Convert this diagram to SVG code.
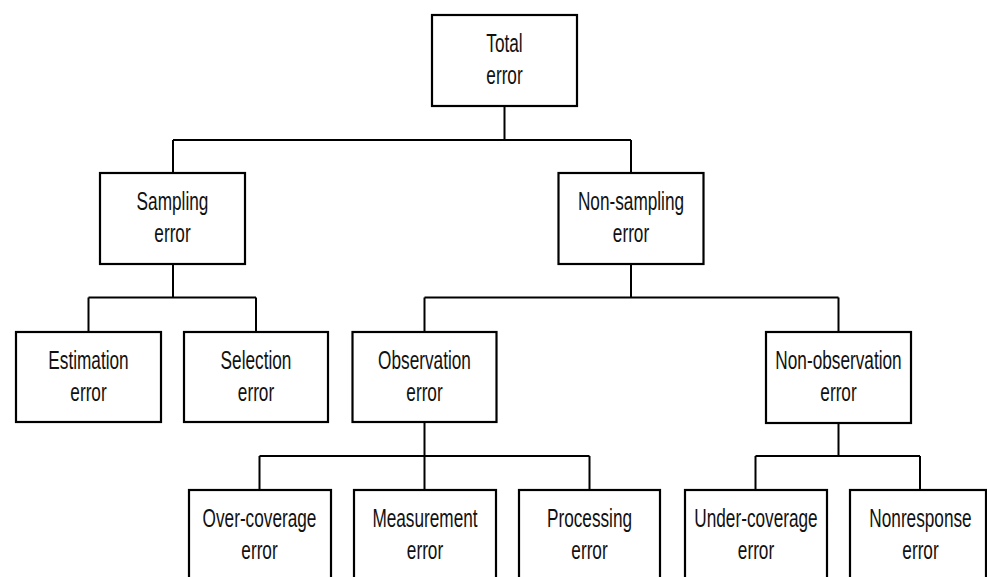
<svg xmlns="http://www.w3.org/2000/svg" width="987" height="577" viewBox="0 0 987 577">
<style>
rect.n{fill:#fff;stroke:#000;stroke-width:2.2}
.c path{fill:none;stroke:#000;stroke-width:2}
text{font-family:"Liberation Sans",Arial,sans-serif;font-size:25.5px;fill:#111;text-anchor:middle}
</style>
<rect width="987" height="577" fill="#fff"/>
<g class="c" id="connectors">
<path d="M504.5 106V140M173 140H631M173 140V173M631 140V173"/>
<path d="M173 264V297.5M88.5 297.5H256M88.5 297.5V332M256 297.5V332"/>
<path d="M631 264V297.5M424.5 297.5H838.5M424.5 297.5V332M838.5 297.5V332"/>
<path d="M424.5 422V456M259.5 456H589.5M259.5 456V490M424.5 456V490M589.5 456V490"/>
<path d="M838.5 423V456M755.5 456H920M755.5 456V490M920 456V490"/>
</g>
<g id="total"><rect class="n" x="432" y="15" width="145" height="91"/>
<text transform="translate(504.5 51.5) scale(0.675 1)">Total</text>
<text transform="translate(504.5 83.5) scale(0.675 1)">error</text></g>
<g id="sampling"><rect class="n" x="100" y="173" width="145" height="91"/>
<text transform="translate(172.5 209.5) scale(0.675 1)">Sampling</text>
<text transform="translate(172.5 241.5) scale(0.675 1)">error</text></g>
<g id="nonsampling"><rect class="n" x="558.5" y="173" width="145" height="91"/>
<text transform="translate(631 209.5) scale(0.675 1)">Non-sampling</text>
<text transform="translate(631 241.5) scale(0.675 1)">error</text></g>
<g id="estimation"><rect class="n" x="16" y="332" width="145" height="90"/>
<text transform="translate(88.5 368.5) scale(0.675 1)">Estimation</text>
<text transform="translate(88.5 400.5) scale(0.675 1)">error</text></g>
<g id="selection"><rect class="n" x="184" y="332" width="144" height="90"/>
<text transform="translate(256 368.5) scale(0.675 1)">Selection</text>
<text transform="translate(256 400.5) scale(0.675 1)">error</text></g>
<g id="observation"><rect class="n" x="352.5" y="332" width="144" height="90"/>
<text transform="translate(424.5 368.5) scale(0.675 1)">Observation</text>
<text transform="translate(424.5 400.5) scale(0.675 1)">error</text></g>
<g id="nonobservation"><rect class="n" x="766" y="332" width="145" height="91"/>
<text transform="translate(838.5 368.5) scale(0.675 1)">Non-observation</text>
<text transform="translate(838.5 400.5) scale(0.675 1)">error</text></g>
<g id="overcoverage"><rect class="n" x="189" y="490" width="142" height="95"/>
<text transform="translate(259.5 526.5) scale(0.675 1)">Over-coverage</text>
<text transform="translate(259.5 558.5) scale(0.675 1)">error</text></g>
<g id="measurement"><rect class="n" x="354" y="490" width="142" height="95"/>
<text transform="translate(425 526.5) scale(0.675 1)">Measurement</text>
<text transform="translate(425 558.5) scale(0.675 1)">error</text></g>
<g id="processing"><rect class="n" x="519" y="490" width="141" height="95"/>
<text transform="translate(589.5 526.5) scale(0.675 1)">Processing</text>
<text transform="translate(589.5 558.5) scale(0.675 1)">error</text></g>
<g id="undercoverage"><rect class="n" x="685" y="490" width="142" height="95"/>
<text transform="translate(756 526.5) scale(0.675 1)">Under-coverage</text>
<text transform="translate(756 558.5) scale(0.675 1)">error</text></g>
<g id="nonresponse"><rect class="n" x="850" y="490" width="136" height="95"/>
<text transform="translate(920.5 526.5) scale(0.675 1)">Nonresponse</text>
<text transform="translate(920.5 558.5) scale(0.675 1)">error</text></g>
</svg>
